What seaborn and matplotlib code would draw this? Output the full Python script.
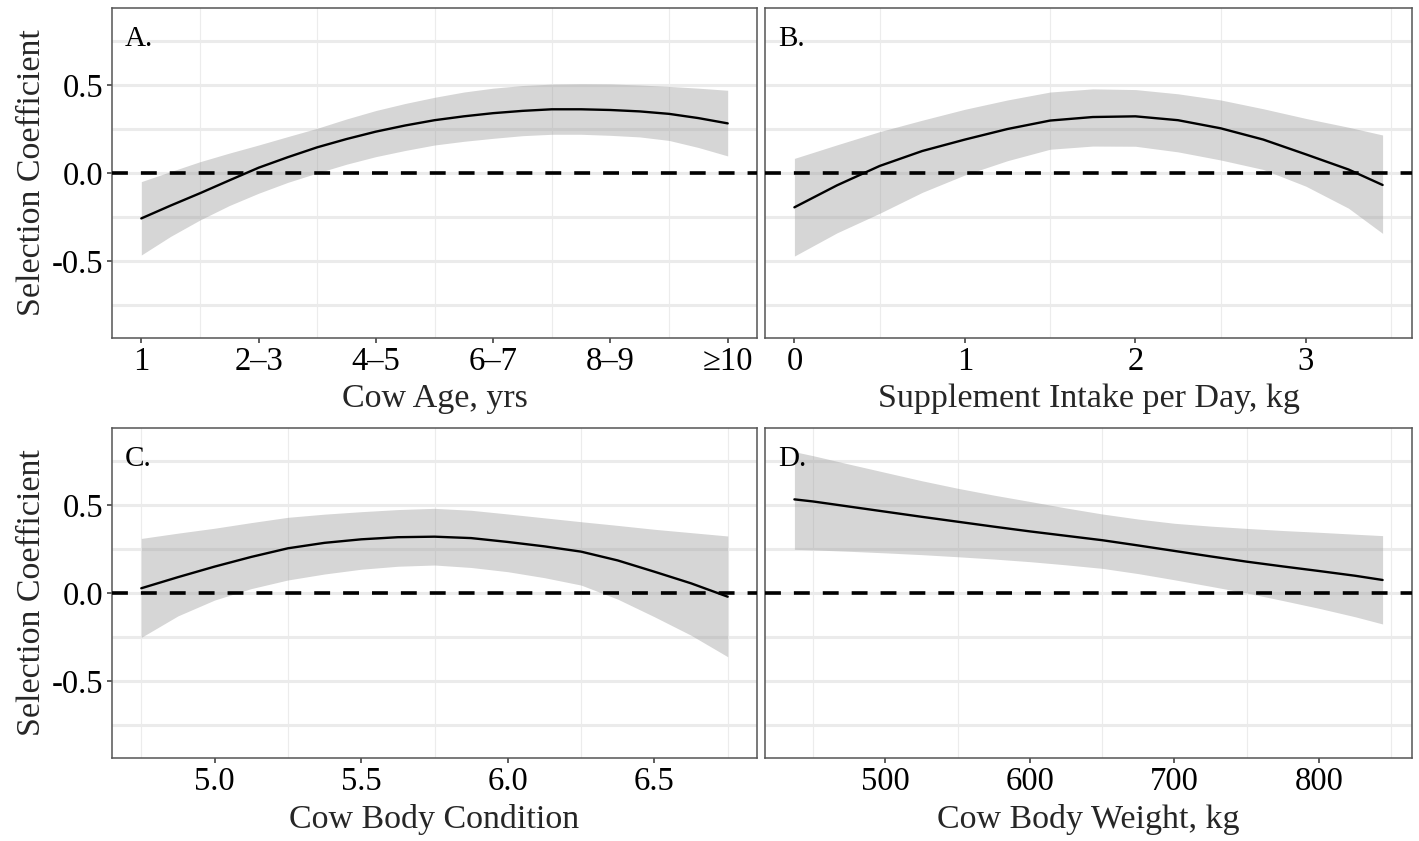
import matplotlib
matplotlib.use("Agg")
import matplotlib.pyplot as plt
import seaborn as sns
import pandas as pd

# ---------------- data ----------------
age_x = [1, 1.25, 1.5, 1.75, 2, 2.25, 2.5, 2.75, 3, 3.25, 3.5, 3.75, 4,
         4.25, 4.5, 4.75, 5, 5.25, 5.5, 5.75, 6]
age_fit = [-0.258, -0.185, -0.115, -0.042, 0.03, 0.09, 0.146, 0.193, 0.235, 0.27,
           0.300, 0.322, 0.340, 0.353, 0.362, 0.362, 0.358, 0.35, 0.336, 0.312, 0.282]
age_hi = [-0.049, 0.008, 0.064, 0.113, 0.159, 0.207, 0.254, 0.307, 0.355, 0.395,
          0.43, 0.46, 0.482, 0.497, 0.505, 0.507, 0.506, 0.50, 0.492, 0.482, 0.470]
age_lo = [-0.466, -0.36, -0.267, -0.185, -0.115, -0.053, 0.0, 0.05, 0.093, 0.128,
          0.159, 0.18, 0.197, 0.212, 0.22, 0.22, 0.214, 0.205, 0.185, 0.145, 0.097]
age_ticks = [1, 2, 3, 4, 5, 6]
age_labels = ["1", "2\u20133", "4\u20135", "6\u20137", "8\u20139", "\u226510"]

sup_x = [0, 0.25, 0.5, 0.75, 1, 1.25, 1.5, 1.75, 2, 2.25, 2.5, 2.75, 3, 3.25, 3.45]
sup_fit = [-0.195, -0.07, 0.04, 0.125, 0.19, 0.25, 0.298, 0.318, 0.322, 0.30,
           0.254, 0.19, 0.106, 0.02, -0.068]
sup_hi = [0.083, 0.16, 0.235, 0.30, 0.362, 0.415, 0.46, 0.478, 0.474, 0.45,
          0.415, 0.365, 0.31, 0.26, 0.216]
sup_lo = [-0.472, -0.34, -0.229, -0.11, -0.011, 0.07, 0.135, 0.153, 0.152, 0.12,
          0.074, 0.02, -0.075, -0.20, -0.343]
sup_ticks = [0, 1, 2, 3]
sup_labels = ["0", "1", "2", "3"]

bcs_x = [4.75, 4.875, 5.0, 5.125, 5.25, 5.375, 5.5, 5.625, 5.75, 5.875, 6.0,
         6.125, 6.25, 6.375, 6.5, 6.625, 6.75]
bcs_fit = [0.027, 0.09, 0.15, 0.205, 0.254, 0.285, 0.305, 0.317, 0.32, 0.312, 0.29,
           0.265, 0.235, 0.185, 0.121, 0.055, -0.021]
bcs_hi = [0.31, 0.34, 0.368, 0.40, 0.43, 0.448, 0.462, 0.474, 0.481, 0.47, 0.449,
          0.427, 0.405, 0.384, 0.362, 0.343, 0.324]
bcs_lo = [-0.252, -0.13, -0.04, 0.025, 0.074, 0.108, 0.135, 0.152, 0.159, 0.145,
          0.121, 0.087, 0.045, -0.035, -0.135, -0.24, -0.362]
bcs_ticks = [5.0, 5.5, 6.0, 6.5]
bcs_labels = ["5.0", "5.5", "6.0", "6.5"]

bw_x = [437, 450, 475, 500, 525, 550, 575, 600, 625, 650, 675, 700, 725, 750,
        775, 800, 825, 844]
bw_fit = [0.532, 0.52, 0.491, 0.462, 0.433, 0.405, 0.377, 0.35, 0.325, 0.30, 0.27,
          0.239, 0.208, 0.178, 0.151, 0.125, 0.098, 0.074]
bw_hi = [0.803, 0.78, 0.732, 0.685, 0.638, 0.595, 0.556, 0.52, 0.483, 0.449, 0.42,
         0.396, 0.38, 0.367, 0.355, 0.345, 0.334, 0.326]
bw_lo = [0.248, 0.245, 0.237, 0.228, 0.218, 0.206, 0.193, 0.178, 0.16, 0.14, 0.11,
         0.075, 0.038, 0.0, -0.043, -0.087, -0.135, -0.176]
bw_ticks = [500, 600, 700, 800]
bw_labels = ["500", "600", "700", "800"]

y_ticks = [-0.5, 0.0, 0.5]
y_labels = ["-0.5", "0.0", "0.5"]
y_grid = [-0.75, -0.5, -0.25, 0.0, 0.25, 0.5, 0.75]
y_lim = (-0.9375, 0.9375)

# ---------------- style ----------------
sns.set_theme(style="white")
plt.rcParams["font.family"] = ["Liberation Serif", "DejaVu Serif"]

W, H = 1419, 841
fig = plt.figure(figsize=(W / 100, H / 100), dpi=100)


def add_ax(l, t, r, b):
    return fig.add_axes([l / W, 1 - b / H, (r - l) / W, (b - t) / H])


def panel(ax, x, fit, lo, hi, ticks, labels, letter, xlabel, show_y):
    rng = max(x) - min(x)
    xmin, xmax = min(x) - 0.05 * rng, max(x) + 0.05 * rng
    step = ticks[1] - ticks[0]
    m = ticks[0] - step / 2
    while m < xmax:
        if m > xmin:
            ax.axvline(m, color="#ececec", lw=0.8, zorder=0)
        m += step
    for g in y_grid:
        ax.axhline(g, color="#ebebeb", lw=2.2, zorder=0)
    ax.fill_between(x, lo, hi, color="#999999", alpha=0.4, lw=0, zorder=1)
    df = pd.DataFrame({"x": x, "y": fit})
    sns.lineplot(data=df, x="x", y="y", ax=ax, color="black", lw=1.7, zorder=3)
    ax.axhline(0, color="black", lw=2.6, ls=(0, (4.4, 3.6)), zorder=4)
    ax.set_xlim(xmin, xmax)
    ax.set_ylim(*y_lim)
    ax.set_xticks(ticks)
    ax.set_xticklabels(labels, fontsize=23.5)
    ax.set_xlabel(xlabel, fontsize=24.5, labelpad=5)
    if show_y:
        ax.set_yticks(y_ticks)
        ax.set_yticklabels(y_labels, fontsize=23.5)
        ax.set_ylabel("Selection Coefficient", fontsize=24.5, labelpad=4)
    else:
        ax.set_yticks([])
        ax.set_ylabel("")
    ax.tick_params(axis="both", which="major", direction="out", length=3.5,
                   width=1.1, color="#333333", pad=2.5, labelcolor="black")
    ax.tick_params(axis="x", bottom=True)
    ax.tick_params(axis="y", left=show_y)
    for s in ax.spines.values():
        s.set_visible(True)
        s.set_color("#555555")
        s.set_linewidth(1.1)
    ax.text(0.02, 0.905, letter, transform=ax.transAxes, fontsize=21,
            ha="left", va="center", color="black")


axA = add_ax(112, 8, 757, 338)
axB = add_ax(765, 8, 1412, 338)
axC = add_ax(112, 428, 757, 758)
axD = add_ax(765, 428, 1412, 758)

panel(axA, age_x, age_fit, age_lo, age_hi, age_ticks, age_labels, "A.", "Cow Age, yrs", True)
panel(axB, sup_x, sup_fit, sup_lo, sup_hi, sup_ticks, sup_labels, "B.", "Supplement Intake per Day, kg", False)
panel(axC, bcs_x, bcs_fit, bcs_lo, bcs_hi, bcs_ticks, bcs_labels, "C.", "Cow Body Condition", True)
panel(axD, bw_x, bw_fit, bw_lo, bw_hi, bw_ticks, bw_labels, "D.", "Cow Body Weight, kg", False)

fig.savefig("out.png", dpi=100, facecolor="white")
